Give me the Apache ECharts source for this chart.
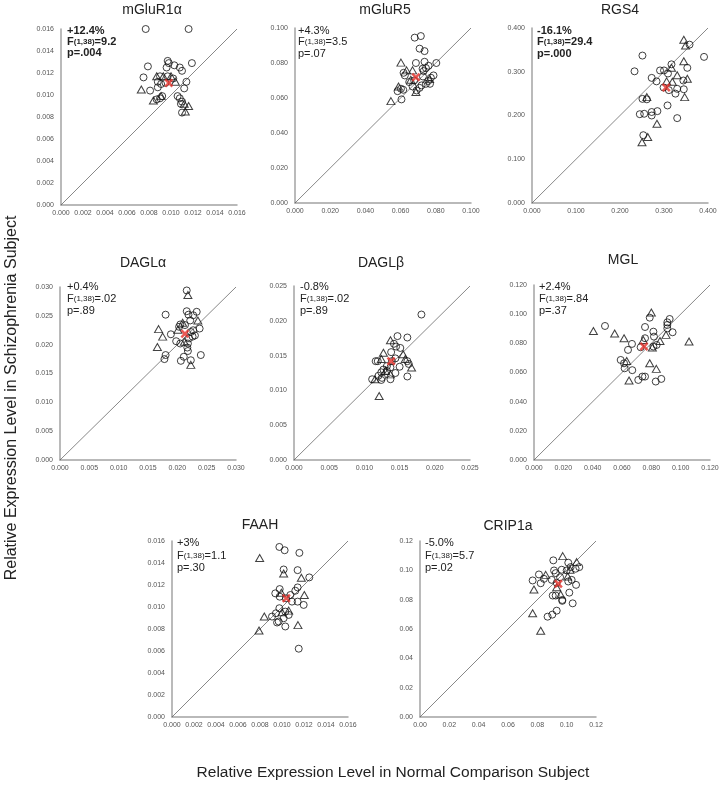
<!DOCTYPE html>
<html>
<head>
<meta charset="utf-8">
<script src="https://cdn.jsdelivr.net/npm/echarts@6/dist/echarts.min.js"></script>
<style>
  html, body { margin: 0; background: #fff; }
  #main { width: 724px; height: 785px; }
</style>
</head>
<body>
<div id="main"></div>
<script>
// values: [normal, schizophrenia] pairs per gene
const mglur1Circles = [[0.0077,0.0160],[0.0116,0.0160],[0.0079,0.0126],[0.0075,0.0116],[0.0081,0.0104],[0.0097,0.0131],[0.0098,0.0129],[0.0103,0.0127],[0.0108,0.0125],[0.0110,0.0122],[0.0119,0.0129],[0.0096,0.0125],[0.0090,0.0117],[0.0097,0.0117],[0.0102,0.0115],[0.0088,0.0112],[0.0088,0.0107],[0.0091,0.0110],[0.0095,0.0111],[0.0114,0.0112],[0.0112,0.0106],[0.0106,0.0099],[0.0108,0.0097],[0.0110,0.0094],[0.0109,0.0092],[0.0110,0.0084],[0.0087,0.0096],[0.0090,0.0097],[0.0092,0.0099]];
const mglur1Triangles = [[0.0073,0.0105],[0.0087,0.0117],[0.0093,0.0117],[0.0100,0.0117],[0.0104,0.0112],[0.0112,0.0092],[0.0116,0.0090],[0.0113,0.0085],[0.0084,0.0095],[0.0091,0.0099]];
const mglur1Mean = [0.0098,0.0111];

const mglur5Circles = [[0.0680,0.0945],[0.0715,0.0954],[0.0708,0.0882],[0.0736,0.0868],[0.0687,0.0800],[0.0736,0.0807],[0.0759,0.0784],[0.0803,0.0800],[0.0617,0.0744],[0.0624,0.0729],[0.0725,0.0767],[0.0744,0.0771],[0.0731,0.0754],[0.0787,0.0729],[0.0772,0.0716],[0.0727,0.0723],[0.0677,0.0700],[0.0649,0.0691],[0.0757,0.0697],[0.0744,0.0681],[0.0719,0.0672],[0.0708,0.0658],[0.0767,0.0681],[0.0602,0.0653],[0.0583,0.0639],[0.0615,0.0647],[0.0668,0.0666],[0.0691,0.0643],[0.0605,0.0592]];
const mglur5Triangles = [[0.0602,0.0802],[0.0634,0.0758],[0.0668,0.0758],[0.0658,0.0704],[0.0765,0.0708],[0.0588,0.0666],[0.0687,0.0634],[0.0545,0.0582]];
const mglur5Mean = [0.0687,0.0719];

const rgs4Circles = [[0.358,0.362],[0.251,0.337],[0.391,0.334],[0.317,0.317],[0.353,0.309],[0.233,0.301],[0.291,0.303],[0.300,0.303],[0.309,0.296],[0.272,0.286],[0.283,0.278],[0.344,0.280],[0.299,0.264],[0.311,0.258],[0.330,0.261],[0.345,0.260],[0.326,0.250],[0.251,0.238],[0.261,0.237],[0.308,0.223],[0.272,0.208],[0.285,0.210],[0.245,0.203],[0.255,0.204],[0.272,0.200],[0.330,0.194],[0.253,0.155]];
const rgs4Triangles = [[0.345,0.373],[0.349,0.360],[0.345,0.324],[0.317,0.309],[0.330,0.292],[0.306,0.278],[0.319,0.277],[0.353,0.284],[0.261,0.242],[0.347,0.242],[0.284,0.181],[0.263,0.151],[0.250,0.139]];
const rgs4Mean = [0.305,0.264];

const daglaCircles = [[0.0216,0.0294],[0.0180,0.0252],[0.0216,0.0258],[0.0233,0.0257],[0.0227,0.0251],[0.0219,0.0252],[0.0222,0.0242],[0.0213,0.0234],[0.0203,0.0231],[0.0205,0.0235],[0.0189,0.0218],[0.0238,0.0228],[0.0227,0.0225],[0.0223,0.0222],[0.0230,0.0216],[0.0226,0.0214],[0.0220,0.0211],[0.0198,0.0206],[0.0205,0.0202],[0.0218,0.0202],[0.0217,0.0195],[0.0218,0.0189],[0.0180,0.0182],[0.0240,0.0182],[0.0178,0.0175],[0.0211,0.0179],[0.0206,0.0172],[0.0223,0.0173]];
const daglaTriangles = [[0.0218,0.0286],[0.0235,0.0242],[0.0209,0.0238],[0.0201,0.0226],[0.0168,0.0227],[0.0175,0.0214],[0.0212,0.0205],[0.0166,0.0196],[0.0223,0.0165]];
const daglaMean = [0.0213,0.0219];

const daglbCircles = [[0.0181,0.0209],[0.0147,0.0178],[0.0161,0.0176],[0.0142,0.0167],[0.0145,0.0163],[0.0151,0.0161],[0.0138,0.0155],[0.0116,0.0142],[0.0119,0.0142],[0.0144,0.0146],[0.0139,0.0142],[0.0161,0.0142],[0.0163,0.0138],[0.0132,0.0135],[0.0137,0.0133],[0.0150,0.0134],[0.0127,0.0130],[0.0124,0.0126],[0.0132,0.0128],[0.0144,0.0125],[0.0120,0.0121],[0.0125,0.0118],[0.0111,0.0116],[0.0124,0.0115],[0.0137,0.0116],[0.0161,0.0120]];
const daglbTriangles = [[0.0137,0.0172],[0.0127,0.0154],[0.0155,0.0152],[0.0124,0.0145],[0.0158,0.0145],[0.0167,0.0133],[0.0137,0.0123],[0.0115,0.0116],[0.0121,0.0092],[0.0130,0.0128]];
const daglbMean = [0.0138,0.0142];

const mglCircles = [[0.0789,0.0976],[0.0925,0.0967],[0.0909,0.0944],[0.0909,0.0926],[0.0909,0.0903],[0.0757,0.0912],[0.0484,0.0919],[0.0814,0.0880],[0.0945,0.0876],[0.0757,0.0835],[0.0818,0.0846],[0.0668,0.0796],[0.0836,0.0789],[0.0814,0.0778],[0.0727,0.0773],[0.0641,0.0755],[0.0591,0.0686],[0.0614,0.0663],[0.0618,0.0629],[0.0670,0.0616],[0.0711,0.0549],[0.0739,0.0572],[0.0757,0.0572],[0.0830,0.0538],[0.0868,0.0556]];
const mglTriangles = [[0.0800,0.1011],[0.0405,0.0885],[0.0550,0.0867],[0.0900,0.0858],[0.0614,0.0835],[0.0745,0.0823],[0.0859,0.0816],[0.0807,0.0771],[0.1057,0.0812],[0.0632,0.0679],[0.0789,0.0663],[0.0834,0.0625],[0.0648,0.0545]];
const mglMean = [0.0750,0.0778];

const faahCircles = [[0.00976,0.01546],[0.01024,0.01516],[0.01158,0.01492],[0.01015,0.01341],[0.01142,0.01335],[0.01248,0.01269],[0.00979,0.01163],[0.01142,0.01178],[0.01121,0.01148],[0.00939,0.01124],[0.01076,0.01109],[0.00979,0.01094],[0.01036,0.01079],[0.01091,0.01049],[0.01142,0.01049],[0.01197,0.01019],[0.00976,0.00989],[0.01030,0.00958],[0.00945,0.00943],[0.00909,0.00913],[0.01061,0.00928],[0.01015,0.00898],[0.00970,0.00868],[0.00955,0.00859],[0.01030,0.00823],[0.01152,0.00621]];
const faahTriangles = [[0.00797,0.01446],[0.01015,0.01305],[0.01176,0.01266],[0.00994,0.01130],[0.01203,0.01109],[0.01061,0.00967],[0.01000,0.00952],[0.00839,0.00913],[0.01145,0.00835],[0.00791,0.00787]];
const faahMean = [0.01039,0.01079];

const crip1aCircles = [[0.0909,0.1068],[0.1011,0.1052],[0.1027,0.1022],[0.1086,0.1022],[0.1061,0.1011],[0.0966,0.1004],[0.1000,0.0999],[0.0914,0.0999],[0.0925,0.0981],[0.0811,0.0972],[0.0845,0.0942],[0.0898,0.0935],[0.0768,0.0931],[0.0955,0.0953],[0.1034,0.0935],[0.1011,0.0924],[0.0823,0.0912],[0.1064,0.0901],[0.0932,0.0915],[0.1018,0.0848],[0.0905,0.0828],[0.0925,0.0828],[0.0970,0.0798],[0.0970,0.0792],[0.1041,0.0775],[0.0932,0.0725],[0.0902,0.0698],[0.0870,0.0684]];
const crip1aTriangles = [[0.0973,0.1097],[0.1068,0.1056],[0.1023,0.1004],[0.0857,0.0969],[0.1007,0.0958],[0.0777,0.0869],[0.0932,0.0885],[0.0959,0.0835],[0.0768,0.0707],[0.0823,0.0588]];
const crip1aMean = [0.0943,0.0908];

// axis ranges (max, tick step, decimals)
const axisMax = [0.016, 0.100, 0.400, 0.030, 0.025, 0.120, 0.016, 0.12];
const axisStep = [0.002, 0.020, 0.100, 0.005, 0.005, 0.020, 0.002, 0.02];
const axisDecimals = [3, 3, 3, 3, 3, 3, 3, 2];

// stats printed in each panel
const pctChange = ['+12.4%', '+4.3%', '-16.1%', '+0.4%', '-0.8%', '+2.4%', '+3%', '-5.0%'];
const fValue = ['9.2', '3.5', '29.4', '.02', '.02', '.84', '1.1', '5.7'];
const pValue = ['p=.004', 'p=.07', 'p=.000', 'p=.89', 'p=.89', 'p=.37', 'p=.30', 'p=.02'];
const significant = [true, false, true, false, false, false, false, false];

const FONT = 'Liberation Sans, Arial, Helvetica, sans-serif';

const panels = [
  { name: 'mGluR1α', circles: mglur1Circles, tri: mglur1Triangles, mean: mglur1Mean, left: 61, top: 29, h: 176, tx: 152, ty: 10, ax: 67, ay: 25, lh: 11 },
  { name: 'mGluR5', circles: mglur5Circles, tri: mglur5Triangles, mean: mglur5Mean, left: 295, top: 28, h: 175, tx: 385, ty: 10, ax: 298, ay: 25, lh: 11.5 },
  { name: 'RGS4', circles: rgs4Circles, tri: rgs4Triangles, mean: rgs4Mean, left: 532, top: 28, h: 175, tx: 620, ty: 10, ax: 537, ay: 25, lh: 11.5 },
  { name: 'DAGLα', circles: daglaCircles, tri: daglaTriangles, mean: daglaMean, left: 60, top: 287, h: 173, tx: 143, ty: 263, ax: 67, ay: 281, lh: 12 },
  { name: 'DAGLβ', circles: daglbCircles, tri: daglbTriangles, mean: daglbMean, left: 294, top: 286, h: 174, tx: 381, ty: 263, ax: 300, ay: 281, lh: 12 },
  { name: 'MGL', circles: mglCircles, tri: mglTriangles, mean: mglMean, left: 534, top: 285, h: 175, tx: 623, ty: 260, ax: 539, ay: 281, lh: 12 },
  { name: 'FAAH', circles: faahCircles, tri: faahTriangles, mean: faahMean, left: 172, top: 541, h: 176, tx: 260, ty: 525, ax: 177, ay: 537, lh: 12.5 },
  { name: 'CRIP1a', circles: crip1aCircles, tri: crip1aTriangles, mean: crip1aMean, left: 420, top: 541, h: 176, tx: 508, ty: 526, ax: 425, ay: 537, lh: 12.5 }
];

const grid = [], xAxis = [], yAxis = [], series = [], title = [], graphic = [];

const axisGrey = { color: '#a3a3a3', width: 1.5 };

panels.forEach(function (p, i) {
  grid.push({ left: p.left, top: p.top, width: 176, height: p.h, containLabel: false });
  const dec = axisDecimals[i];
  const common = {
    gridIndex: i, type: 'value', min: 0, max: axisMax[i], interval: axisStep[i],
    axisLine: { show: true, onZero: false, lineStyle: axisGrey },
    axisTick: { show: false },
    splitLine: { show: false },
    axisLabel: { fontSize: 7, color: '#555', fontFamily: FONT, formatter: function (v) { return v.toFixed(dec); } }
  };
  xAxis.push(Object.assign({}, common, { axisLabel: Object.assign({}, common.axisLabel, { margin: 5 }) }));
  yAxis.push(Object.assign({}, common, { axisLabel: Object.assign({}, common.axisLabel, { margin: 7 }) }));

  // identity line
  series.push({
    type: 'line', xAxisIndex: i, yAxisIndex: i, silent: true, symbol: 'none',
    data: [[0, 0], [axisMax[i], axisMax[i]]],
    lineStyle: { color: '#555', width: 0.7 }, z: 1
  });
  series.push({
    type: 'scatter', xAxisIndex: i, yAxisIndex: i, data: p.circles,
    symbol: 'circle', symbolSize: 7,
    itemStyle: { color: 'rgba(0,0,0,0)', borderColor: '#111', borderWidth: 1 }, z: 2
  });
  series.push({
    type: 'scatter', xAxisIndex: i, yAxisIndex: i, data: p.tri,
    symbol: 'triangle', symbolSize: [8, 7],
    itemStyle: { color: 'rgba(0,0,0,0)', borderColor: '#111', borderWidth: 1 }, z: 2
  });
  series.push({
    type: 'scatter', xAxisIndex: i, yAxisIndex: i, data: [p.mean],
    symbol: 'path://M2,0L5,3L8,0L10,2L7,5L10,8L8,10L5,7L2,10L0,8L3,5L0,2Z', symbolSize: 9,
    itemStyle: { color: '#e3312a' }, z: 3
  });

  graphic.push({
    type: 'text', x: p.tx, y: p.ty,
    style: { text: p.name, font: '14px ' + FONT, fill: '#222', align: 'center', verticalAlign: 'middle', textAlign: 'center', textVerticalAlign: 'middle' }
  });

  const w = significant[i] ? 'bold' : 'normal';
  title.push({
    left: p.ax, top: p.ay, padding: 0,
    text: '{a|' + pctChange[i] + '}\n{a|F}{s|(1,38)}{a|=' + fValue[i] + '}\n{a|' + pValue[i] + '}',
    textStyle: {
      rich: {
        a: { fontSize: 11, fontWeight: w, color: '#222', fontFamily: FONT, lineHeight: p.lh },
        s: { fontSize: 8, fontWeight: w, color: '#222', fontFamily: FONT, lineHeight: p.lh }
      }
    }
  });
});

graphic.push({
  type: 'text', x: 12, y: 398, rotation: Math.PI / 2,
  style: { text: 'Relative Expression Level in Schizophrenia Subject', font: '16px ' + FONT, fill: '#222', align: 'center', verticalAlign: 'middle', textAlign: 'center', textVerticalAlign: 'middle' }
});
graphic.push({
  type: 'text', x: 393, y: 773,
  style: { text: 'Relative Expression Level in Normal Comparison Subject', font: '15.5px ' + FONT, fill: '#222', align: 'center', verticalAlign: 'middle', textAlign: 'center', textVerticalAlign: 'middle' }
});

const chart = echarts.init(document.getElementById('main'), null, { renderer: 'canvas' });
chart.setOption({
  backgroundColor: '#fff',
  animation: false,
  title: title,
  grid: grid,
  xAxis: xAxis,
  yAxis: yAxis,
  series: series,
  graphic: graphic
});
</script>
</body>
</html>
